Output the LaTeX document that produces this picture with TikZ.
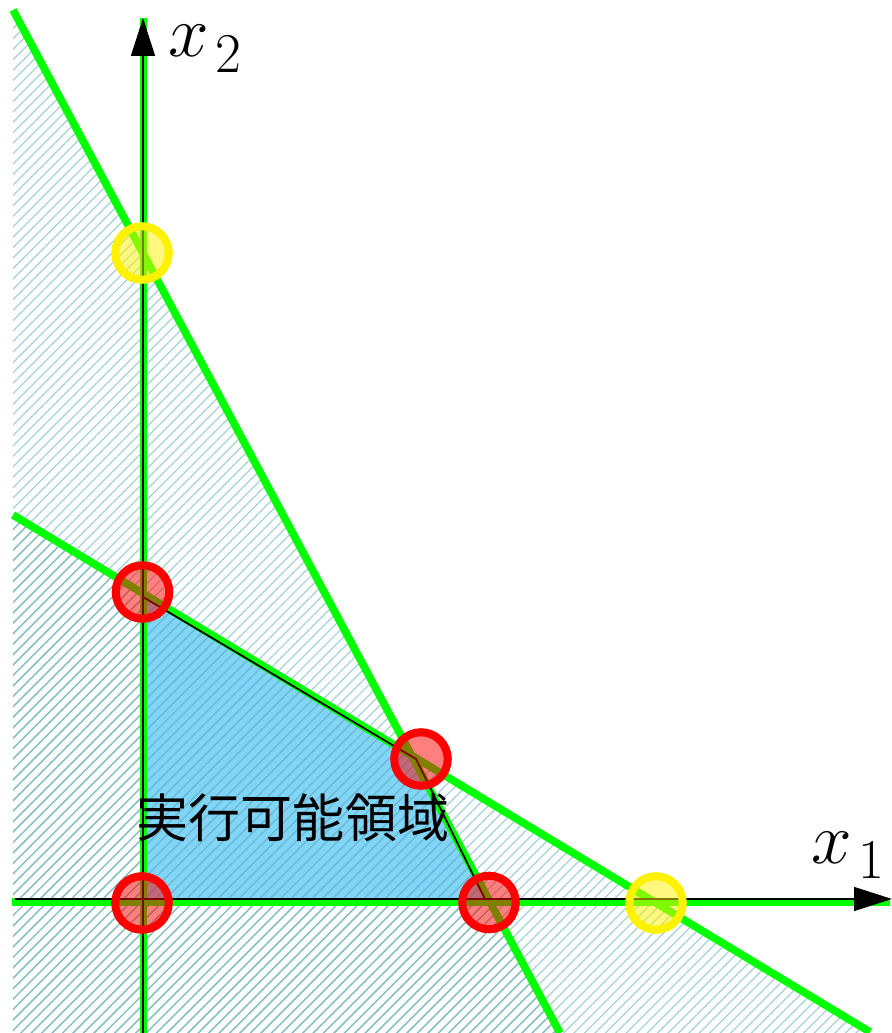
\documentclass[tikz,border=0pt]{standalone}
\usepackage{xcolor}
\usepackage{fontspec}
\usepackage{tikz}
\usetikzlibrary{arrows.meta,patterns.meta}
\newfontfamily\jpfont{Noto Sans CJK JP}
\definecolor{LPGreen}{HTML}{00FF00}
\definecolor{LPBlue}{HTML}{80D6F8}
\definecolor{LPHatchLt}{HTML}{A4D2D5}
\definecolor{LPHatchDk}{HTML}{88BFC3}
\definecolor{LPHatchBl}{HTML}{66BBDD}
\newcommand\axlab[1]{$x$\kern1.8pt\raisebox{-4.5pt}{\fontsize{16}{18}\selectfont #1}}

\begin{document}
\begin{tikzpicture}[
  cons/.style={draw=LPGreen,line width=2.2pt},
  hatch/.style={pattern={Lines[angle=45,distance=2.1pt,line width=0.35pt]},
    pattern color=#1},
  axis/.style={-{Triangle[length=3.8mm,width=2.4mm]},line width=0.4pt,black},
  vtx/.style={circle,draw=red,fill=red,fill opacity=0.5,line width=2.3pt,
    minimum size=5.35mm,inner sep=0pt},
  infvtx/.style={vtx,draw=yellow,fill=yellow},
  lbl/.style={font=\fontsize{20}{24}\selectfont,inner sep=0pt,anchor=base west}
]
  \useasboundingbox (0,0) rectangle (8.92,10.33);
  % constraint lines and axes
  \coordinate (L1a) at (0.13,10.23); \coordinate (L1b) at (5.60,0);
  \coordinate (L2a) at (0.13,5.18);  \coordinate (L2b) at (8.70,0.01);
  \coordinate (Lx) at (intersection of L1a--L1b and L2a--L2b);
  \coordinate (Va) at (1.435,0);     \coordinate (Vb) at (1.435,10.15);
  \coordinate (Ha) at (0.12,1.31);   \coordinate (Hb) at (8.90,1.31);
  \coordinate (X0) at (0.15,1.34);   \coordinate (X1) at (8.92,1.34);
  \coordinate (Y0) at (1.43,0);      \coordinate (Y1) at (1.43,10.15);
  % feasible region
  \coordinate (F0) at (1.43,1.34); \coordinate (F1) at (1.43,4.36);
  \coordinate (F2) at (4.16,2.74); \coordinate (F3) at (4.85,1.34);

  \fill[LPBlue] (F0)--(F1)--(F2)--(F3)--cycle;
  \path[hatch=LPHatchLt] (L1a)--(L1b)--(0.13,0)--cycle;
  \path[hatch=LPHatchLt] (L2a)--(L2b)--(8.70,0)--(0.13,0)--cycle;
  \path[hatch=LPHatchDk] (L2a)--(Lx)--(L1b)--(0.13,0)--cycle;
  \path[hatch=LPHatchBl] (F0)--(F1)--(F2)--(F3)--cycle;

  \draw[cons] (L1a)--(L1b);
  \draw[cons] (L2a)--(L2b);
  \draw[cons] (Va)--(Vb);
  \draw[cons] (Ha)--(Hb);

  \draw[line width=0.5pt] (F0)--(F1)--(F2)--(F3)--cycle;
  \draw[axis] (X0)--(X1);
  \draw[axis] (Y0)--(Y1);

  \node[vtx] (v0) at (1.42,1.30) {};
  \node[vtx] (vA) at (1.425,4.41) {};
  \node[vtx] (vP) at (4.21,2.74) {};
  \node[vtx] (vB) at (4.89,1.305) {};
  \node[infvtx] (wA) at (1.42,7.80) {};
  \node[infvtx] (wB) at (6.56,1.30) {};

  \node[lbl] (lx2) at (1.68,9.76) {\axlab{2}};
  \node[lbl] (lx1) at (8.11,1.70) {\axlab{1}};
  \node[font=\jpfont\fontsize{14.8}{18}\selectfont] (feas) at (2.93,2.15) {実行可能領域};
\end{tikzpicture}
\end{document}
